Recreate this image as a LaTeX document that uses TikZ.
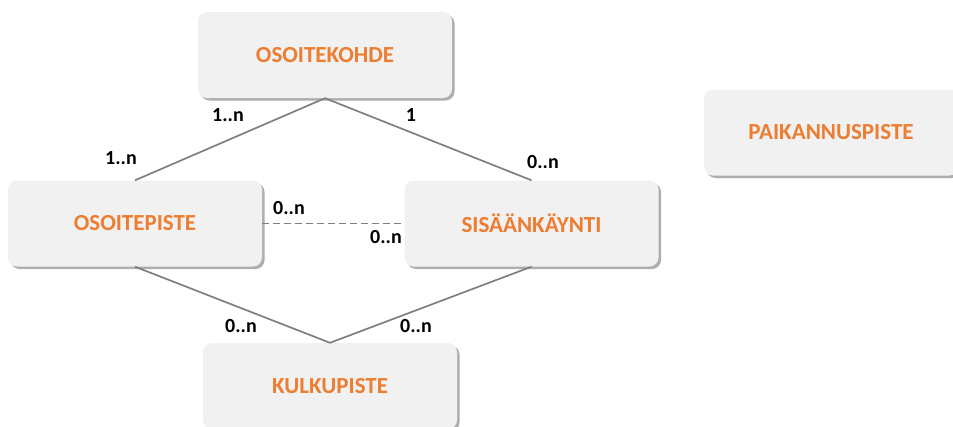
\documentclass[tikz,border=0pt]{standalone}
\usepackage{fontspec}
\setmainfont{Carlito}
\usetikzlibrary{shadows}
\definecolor{boxfill}{HTML}{F1F1F1}
\definecolor{txtorange}{HTML}{ED7D31}
\definecolor{linegray}{HTML}{7F7F7F}
\tikzset{
  entity/.style={draw=none, fill=boxfill, rounded corners=9pt, minimum width=254pt, minimum height=86pt,
    text=txtorange, font=\bfseries\fontsize{23}{27}\selectfont,
    drop shadow={shadow xshift=2.5pt, shadow yshift=-2.5pt, fill=black!45, opacity=0.7}},
  rel/.style={draw=linegray, line width=1.7pt},
  card/.style={font=\bfseries\fontsize{20}{24}\selectfont, text=black, inner sep=0pt}
}
\begin{document}
\begin{tikzpicture}[x=1pt,y=-1pt]
\useasboundingbox (0,0) rectangle (953,426);
\node[entity] (kohde) at (325,55) {OSOITEKOHDE};
\node[entity] (piste) at (135,223.5) {OSOITEPISTE};
\node[entity] (sis) at (531.5,223.5) {SISÄÄNKÄYNTI};
\node[entity] (paik) at (831,132.5) {PAIKANNUSPISTE};
\node[entity] (kulku) at (330,386) {KULKUPISTE};
\draw[rel] (kohde.south) -- (piste.north);
\draw[rel] (kohde.south) -- (sis.north);
\draw[rel, dashed, dash pattern=on 7pt off 4pt] (piste.east) -- (sis.west);
\draw[rel] (piste.south) -- (kulku.north);
\draw[rel] (sis.south) -- (kulku.north);
\node[card] (c1) at (228,115) {1..n};
\node[card] (c2) at (411,115) {1};
\node[card] (c3) at (121,158) {1..n};
\node[card] (c4) at (543,162) {0..n};
\node[card] (c5) at (289,208) {0..n};
\node[card] (c6) at (386,237) {0..n};
\node[card] (c7) at (241,326) {0..n};
\node[card] (c8) at (416,326) {0..n};
\end{tikzpicture}
\end{document}
